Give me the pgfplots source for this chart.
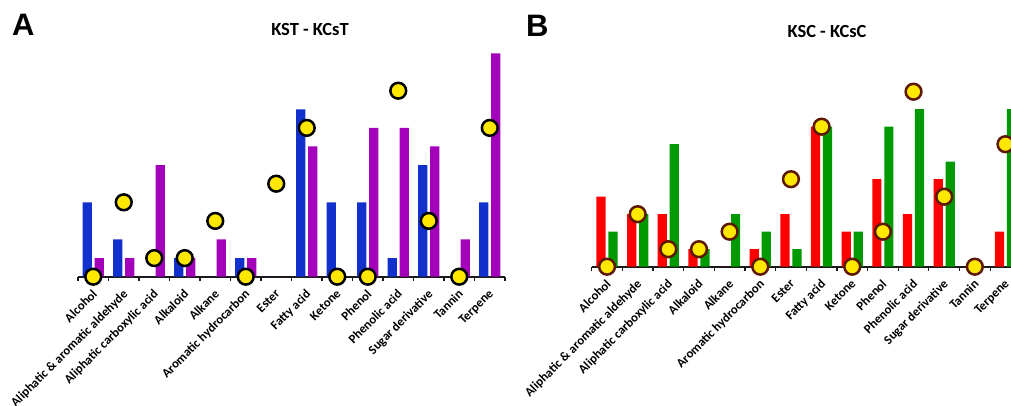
\documentclass[border=0pt]{standalone}
\usepackage{pgfplots}
\pgfplotsset{compat=1.18}
\usepackage{fontspec}
\setmainfont{Carlito}
\newfontfamily\arialfont{Liberation Sans}
\definecolor{cblue}{HTML}{1230CC}
\definecolor{cpurple}{HTML}{A400BC}
\definecolor{cred}{HTML}{FF0000}
\definecolor{cgreen}{HTML}{009A00}
\definecolor{cyell}{HTML}{FFE800}
\definecolor{cbrown}{HTML}{5C1800}
\definecolor{caxis}{HTML}{1A1A1A}
\pgfplotsset{
  panel/.style={
    xmin=-0.5, xmax=13.5, ymin=0,
    clip=false,
    axis y line=none,
    axis x line*=bottom,
    axis line style={caxis, line width=1.8pt, -},
    xtick={0,...,13},
    xticklabels={Alcohol, Aliphatic \& aromatic aldehyde, Aliphatic carboxylic acid, Alkaloid, Alkane, Aromatic hydrocarbon, Ester, Fatty acid, Ketone, Phenol, Phenolic acid, Sugar derivative, Tannin, Terpene},
    major tick length=0pt,
    minor xtick={-0.5,0.5,...,13.5},
    minor tick length=4pt,
    tick align=outside,
    minor tick style={caxis, line width=1.2pt},
    xticklabel style={rotate=45, anchor=north east, font=\bfseries\fontsize{12.7}{13}\selectfont, inner sep=1pt, xshift=-8.6pt, yshift=-6.1pt},
    anchor=south west,
  },
}
\begin{document}
\begin{tikzpicture}
\useasboundingbox (0,0) rectangle (1011pt,406pt);
\begin{scope}
\clip (0,0) rectangle (1011pt,406pt);
\fill[white] (0,0) rectangle (1011pt,406pt);
% Panel A
\begin{axis}[panel, x=30.5pt, y=18.6pt, ymax=12, at={(78pt,129.3pt)}]
\addplot[ybar, bar width=9.2pt, bar shift=-6pt, fill=cblue, draw=none] coordinates {
(0,4) (1,2) (2,0) (3,1) (4,0) (5,1) (6,0) (7,9) (8,4) (9,4) (10,1) (11,6) (12,0) (13,4)};
\addplot[ybar, bar width=9.2pt, bar shift=6pt, fill=cpurple, draw=none] coordinates {
(0,1) (1,1) (2,6) (3,1) (4,2) (5,1) (6,0) (7,7) (8,0) (9,8) (10,8) (11,7) (12,2) (13,12)};
\addplot[only marks, mark=*, mark size=7.9pt, mark options={fill=cyell, draw=black, line width=2.5pt}] coordinates {
(0,0) (1,4) (2,1) (3,1) (4,3) (5,0) (6,5) (7,8) (8,0) (9,0) (10,10) (11,3) (12,0) (13,8)};
\end{axis}
% Panel B
\begin{axis}[panel, x=30.65pt, y=17.5pt, ymax=10, at={(591.7pt,139.3pt)}]
\addplot[ybar, bar width=9.2pt, bar shift=-6pt, fill=cred, draw=none] coordinates {
(0,4) (1,3) (2,3) (3,1) (4,0) (5,1) (6,3) (7,8) (8,2) (9,5) (10,3) (11,5) (12,0) (13,2)};
\addplot[ybar, bar width=9.2pt, bar shift=6pt, fill=cgreen, draw=none] coordinates {
(0,2) (1,3) (2,7) (3,1) (4,3) (5,2) (6,1) (7,8) (8,2) (9,8) (10,9) (11,6) (12,0) (13,9)};
\addplot[only marks, mark=*, mark size=7.9pt, mark options={fill=cyell, draw=cbrown, line width=2.5pt}] coordinates {
(0,0) (1,3) (2,1) (3,1) (4,2) (5,0) (6,5) (7,8) (8,0) (9,2) (10,10) (11,4) (12,0) (13,7)};
\end{axis}
\end{scope}
\node[font=\bfseries\fontsize{18.5}{20}\selectfont] at (310pt,376pt) {KST - KCsT};
\node[font=\bfseries\fontsize{18.5}{20}\selectfont] at (827pt,374.5pt) {KSC - KCsC};
\node[font=\arialfont\bfseries\fontsize{31}{32}\selectfont, anchor=base west, inner sep=0pt] at (12pt,370pt) {A};
\node[font=\arialfont\bfseries\fontsize{31}{32}\selectfont, anchor=base west, inner sep=0pt] at (526pt,369.5pt) {B};
\end{tikzpicture}
\end{document}
